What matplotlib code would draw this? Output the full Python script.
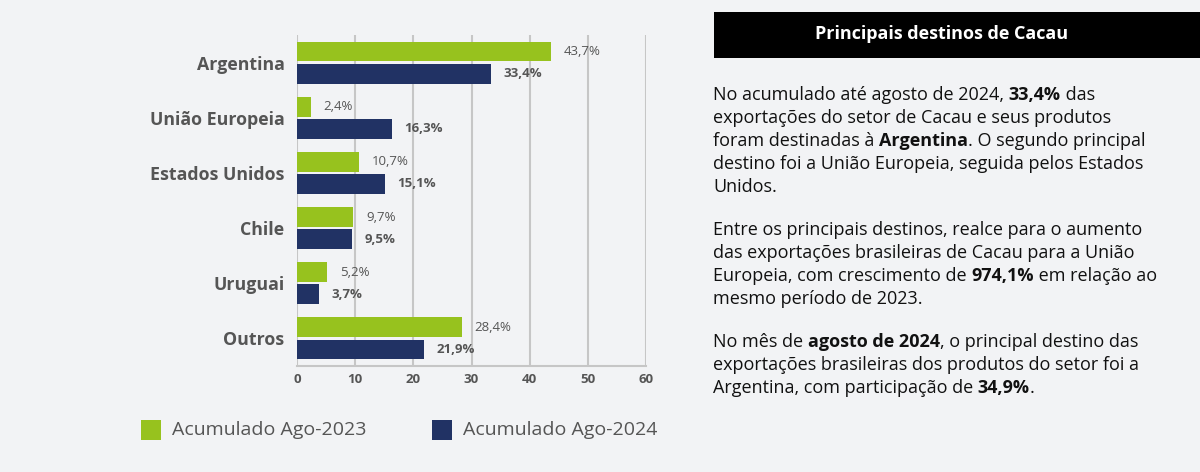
import numpy as np
import matplotlib
matplotlib.use("Agg")
import matplotlib.pyplot as plt
from matplotlib.patches import Rectangle

W, H = 1200, 472

categorias = ["Argentina", "União Europeia", "Estados Unidos", "Chile", "Uruguai", "Outros"]
ago_2023 = [43.7, 2.4, 10.7, 9.7, 5.2, 28.4]
ago_2024 = [33.4, 16.3, 15.1, 9.5, 3.7, 21.9]
series_nomes = ["Acumulado Ago-2023", "Acumulado Ago-2024"]
xticks = [0, 10, 20, 30, 40, 50, 60]

verde = "#97c21e"
azul = "#213264"
cinza = "#555555"
fundo = "#f2f3f5"
fonte = "Open Sans"

plt.rcParams["font.family"] = [fonte, "DejaVu Sans"]

fig = plt.figure(figsize=(W / 100, H / 100), dpi=100, facecolor=fundo)


def px(x, y):
    return x / W, 1 - y / H


# eixo do grafico
l, b = px(297, 366)
r, t = px(646, 35)
ax = fig.add_axes([l, b, r - l, t - b])
ax.set_facecolor(fundo)

y = np.arange(len(categorias))
ax.barh(y - 0.2, ago_2023, height=0.36, color=verde, zorder=3)
ax.barh(y + 0.2, ago_2024, height=0.36, color=azul, zorder=3)

for i in range(len(categorias)):
    ax.annotate(f"{ago_2023[i]:.1f}%".replace(".", ","), (ago_2023[i], y[i] - 0.2),
                xytext=(9, 0), textcoords="offset points", va="center", ha="left",
                fontsize=9.5, color=cinza)
    ax.annotate(f"{ago_2024[i]:.1f}%".replace(".", ","), (ago_2024[i], y[i] + 0.2),
                xytext=(9, 0), textcoords="offset points", va="center", ha="left",
                fontsize=9.5, color=cinza, fontweight="bold")

ax.set_xlim(0, 60)
ax.set_ylim(len(categorias) - 0.5, -0.5)
ax.set_xticks(xticks)
ax.set_xticklabels([str(v) for v in xticks], fontsize=9.5, fontweight="bold", color=cinza)
ax.set_yticks(y)
ax.set_yticklabels(categorias, fontsize=12.8, fontweight="bold", color=cinza)
ax.tick_params(axis="both", length=0)
ax.tick_params(axis="y", pad=9)
ax.tick_params(axis="x", pad=5)
ax.grid(axis="x", color="#c6c6c6", linewidth=1.5, zorder=0)
for s in ["top", "right", "left"]:
    ax.spines[s].set_visible(False)
ax.spines["bottom"].set_color("#c6c6c6")
ax.spines["bottom"].set_linewidth(1.5)

# legenda
for xq, xt, cor, nome in [(141, 172, verde, series_nomes[0]), (432, 463, azul, series_nomes[1])]:
    x0, y0 = px(xq, 440)
    fig.patches.append(Rectangle((x0, y0), 20 / W, 20 / H, transform=fig.transFigure,
                                 facecolor=cor, edgecolor="none"))
    fig.text(*px(xt, 430), nome, fontsize=14, color=cinza, va="center", ha="left")

# painel de texto
x0, y0 = px(714, 58)
fig.patches.append(Rectangle((x0, y0), 1 - x0, 46 / H, transform=fig.transFigure,
                             facecolor="black", edgecolor="none"))
fig.text(*px(942, 34), "Principais destinos de Cacau", color="white", fontsize=13,
         fontweight="bold", ha="center", va="center")

linhas = [
    (95, [("No acumulado até agosto de 2024, ", False), ("33,4%", True), (" das", False)]),
    (118, [("exportações do setor de Cacau e seus produtos", False)]),
    (141, [("foram destinadas à ", False), ("Argentina", True), (". O segundo principal", False)]),
    (164, [("destino foi a União Europeia, seguida pelos Estados", False)]),
    (187, [("Unidos.", False)]),
    (230, [("Entre os principais destinos, realce para o aumento", False)]),
    (253, [("das exportações brasileiras de Cacau para a União", False)]),
    (276, [("Europeia, com crescimento de ", False), ("974,1%", True), (" em relação ao", False)]),
    (299, [("mesmo período de 2023.", False)]),
    (342, [("No mês de ", False), ("agosto de 2024", True), (", o principal destino das", False)]),
    (365, [("exportações brasileiras dos produtos do setor foi a", False)]),
    (388, [("Argentina, com participação de ", False), ("34,9%", True), (".", False)]),
]

renderer = fig.canvas.get_renderer()
for ypx, partes in linhas:
    xpx = 713
    for texto, negrito in partes:
        tx = fig.text(*px(xpx, ypx), texto, fontsize=13, color="#111111", va="center", ha="left",
                      fontweight="bold" if negrito else "normal")
        bb = tx.get_window_extent(renderer=renderer)
        xpx += bb.width

fig.savefig("out.png", dpi=100, facecolor=fundo)
